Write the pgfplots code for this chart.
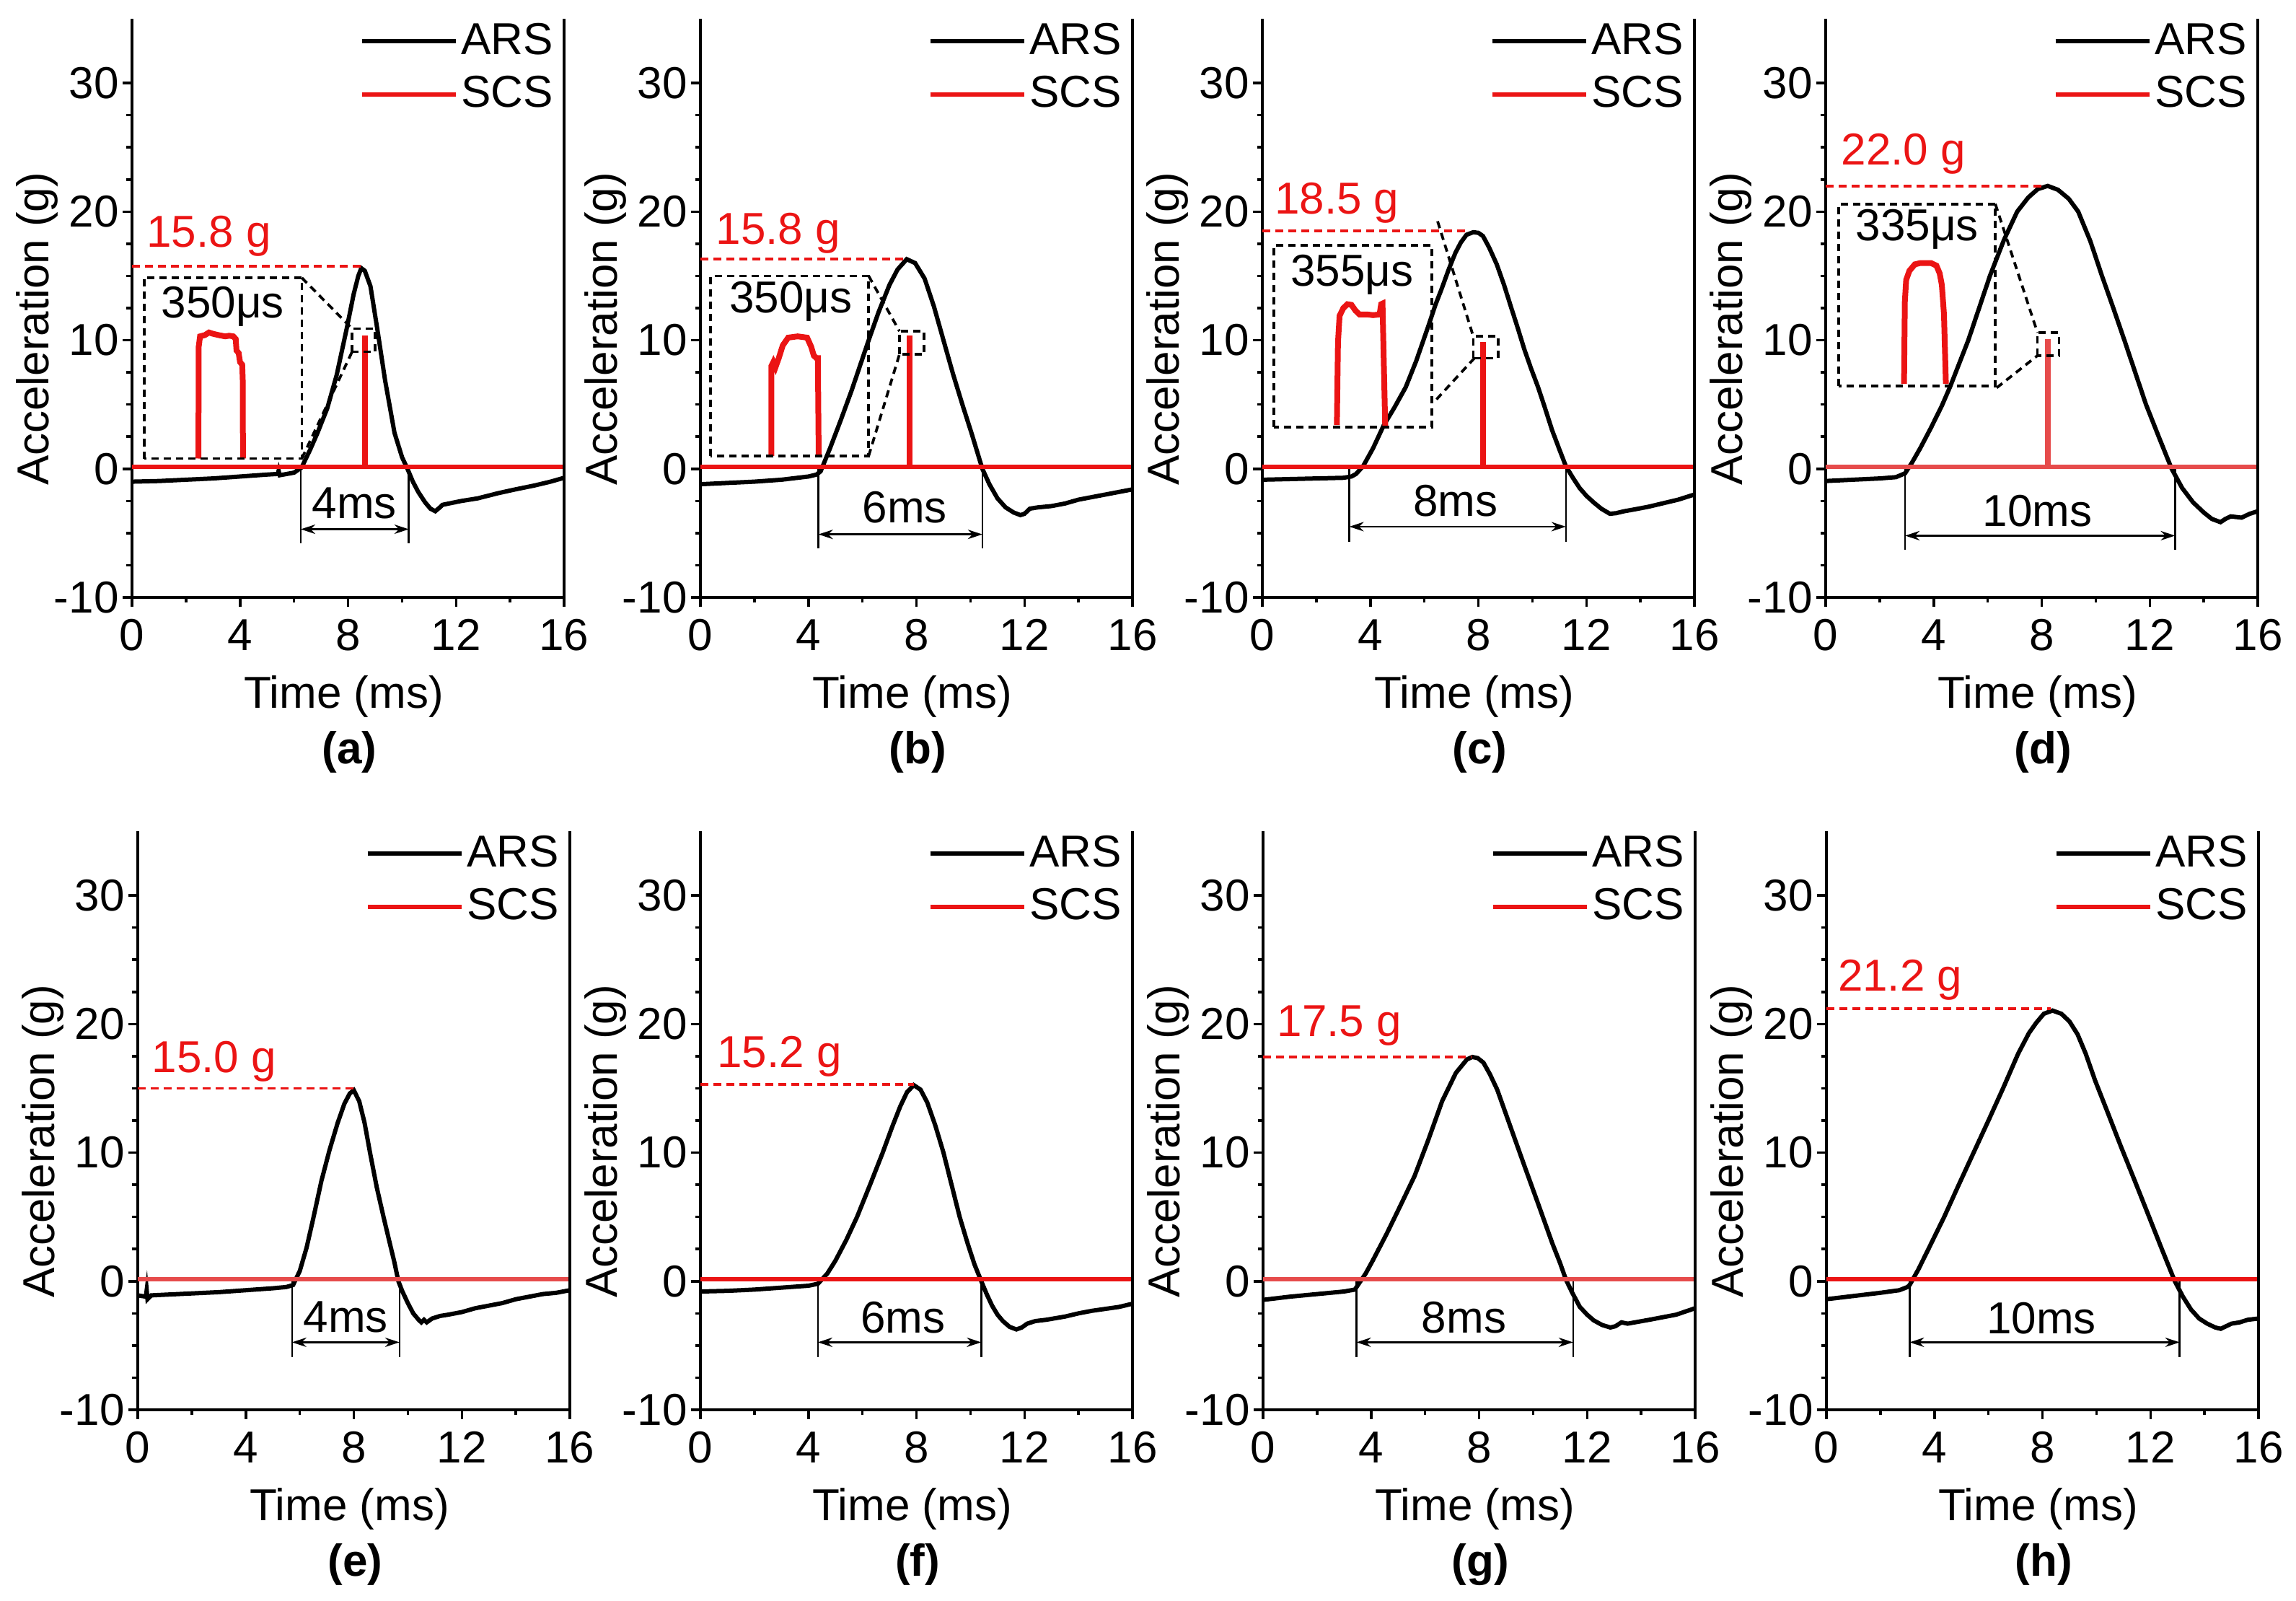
\documentclass[border=0pt]{standalone}
\usepackage{fontspec}
\setmainfont{Liberation Sans}
\usepackage{pgfplots}
\pgfplotsset{compat=1.18}
\usetikzlibrary{arrows.meta}
\definecolor{myred}{RGB}{235,20,20}
\definecolor{myredl}{RGB}{230,75,75}
\newcommand{\fs}{\fontsize{12.4}{14.5}\selectfont}
\tikzset{
  dbox/.style={black, line width=0.75pt, dash pattern=on 2pt off 1.4pt},
  rdash/.style={myred, line width=0.75pt, dash pattern=on 2.2pt off 1.4pt},
  dim/.style={black, line width=0.5pt},
  dimarr/.style={black, line width=0.5pt, {Stealth[length=4pt,width=2.6pt]}-{Stealth[length=4pt,width=2.6pt]}},
}
\pgfplotsset{panel/.style={
  scale only axis, width=119.8pt, height=160.4pt, anchor=south west,
  xmin=0, xmax=16, ymin=-10, ymax=35, clip=false,
  axis x line*=bottom, axis y line*=left,
  axis line style={-, line width=0.8pt},
  xtick={0,4,8,12,16}, xticklabels={0,4,8,12,16},
  ytick={-10,0,10,20,30}, yticklabels={-10,0,10,20,30},
  minor x tick num=1, minor y tick num=3,
  tick align=outside, major tick length=2.6pt, minor tick length=1.5pt,
  every tick/.style={black, line width=0.7pt},
  tick label style={font=\fs},
  yticklabel style={inner xsep=0.9pt},
  xlabel={Time (ms)}, ylabel={Acceleration (g)},
  label style={font=\fs},
  xlabel style={at={(axis description cs:0.49,-0.1708)}, anchor=center},
  ylabel style={at={(axis description cs:-0.2204,0.464)}, anchor=center},
  legend style={at={(axis description cs:0.985,1.0)}, anchor=north east, draw=none, fill=none,
    font=\fs, inner sep=0pt, row sep=2.5pt, nodes={inner sep=1pt}},
  legend cell align=left,
  legend image code/.code={\draw[#1, line width=1.2pt] (0pt,0pt) -- (26pt,0pt);},
  ars/.style={black, line width=1.2pt, no marks},
  scs/.style={myred, line width=1.2pt, no marks},
  scsl/.style={myredl, line width=1.2pt, no marks, forget plot},
  inset/.style={myred, line width=1.6pt, no marks},
}}
\begin{document}
\begin{tikzpicture}
\useasboundingbox (0,0) rectangle (636.6pt,443.8pt);
%================ (a)
\begin{axis}[panel, at={(36.6pt,278.2pt)}]
\addplot[ars] coordinates {(0,-1.0)(1,-0.95)(2,-0.85)(3,-0.75)(4,-0.6)(5,-0.45)(5.4,-0.4)(5.43,-0.15)(5.47,-0.5)(6.0,-0.3)(6.28,0.1)(6.6,1.5)(6.87,2.8)(7.23,4.7)(7.58,7.3)(7.94,10.8)(8.21,13.6)(8.38,15.0)(8.49,15.6)(8.62,15.4)(8.83,14.2)(9.1,10.65)(9.37,6.9)(9.72,2.8)(10.0,0.9)(10.2,0)(10.4,-1.0)(10.6,-1.8)(10.85,-2.6)(11.05,-3.1)(11.23,-3.3)(11.4,-3.0)(11.5,-2.8)(12.2,-2.5)(12.8,-2.3)(13.55,-1.9)(14.2,-1.6)(14.9,-1.3)(15.5,-1.0)(16,-0.7)};
\addlegendentry{ARS}
\addplot[scs] coordinates {(0,0.15)(8.6,0.15)(8.6,10.2)(8.66,10.2)(8.66,0.15)(16,0.15)};
\addlegendentry{SCS}
\addplot[inset, forget plot] coordinates {(2.46,0.8)(2.47,9.5)(2.52,10.3)(2.7,10.4)(2.85,10.6)(3.0,10.5)(3.2,10.4)(3.45,10.3)(3.6,10.35)(3.75,10.3)(3.84,10.1)(3.87,9.2)(3.95,9.0)(4.0,8.3)(4.08,8.1)(4.1,7.0)(4.11,0.8)};
\draw[rdash] (axis cs:0,15.75) -- (axis cs:8.55,15.75);
\node[myred, font=\fs, anchor=west, inner sep=0pt] at (axis cs:0.52,18.1) {15.8 g};
\draw[dbox] (axis cs:0.45,0.8) rectangle (axis cs:6.29,14.85);
\draw[dbox] (axis cs:8.15,9.1) rectangle (axis cs:9.0,10.9);
\draw[dbox] (axis cs:6.29,14.85) -- (axis cs:8.15,10.9);
\draw[dbox] (axis cs:6.29,0.8) -- (axis cs:8.15,9.1);
\node[font=\fs, inner sep=0pt] at (axis cs:3.36,12.6) {350μs};
\draw[dim] (axis cs:6.25,0) -- (axis cs:6.25,-5.8);
\draw[dim] (axis cs:10.25,0) -- (axis cs:10.25,-5.8);
\draw[dimarr] (axis cs:6.25,-4.7) -- (axis cs:10.25,-4.7);
\node[font=\fs, inner sep=0pt] at (axis cs:8.23,-2.7) {4ms};
\draw[line width=0.8pt] (rel axis cs:1,0) -- (rel axis cs:1,1);
\node[font=\fs\bfseries] at (axis description cs:0.503,-0.267) {(a)};
\end{axis}
%================ (b)
\begin{axis}[panel, at={(194.2pt,278.2pt)}]
\addplot[ars] coordinates {(0,-1.2)(1,-1.1)(2,-1.0)(3,-0.85)(4,-0.6)(4.3,-0.45)(4.45,-0.2)(4.8,1.6)(5.2,3.8)(5.6,6.1)(6.23,10.0)(6.6,12.2)(7.0,14.3)(7.3,15.5)(7.64,16.3)(7.95,16.0)(8.3,14.8)(8.65,12.6)(9.0,10.0)(9.35,7.4)(9.7,5.0)(10.05,2.7)(10.44,0)(10.7,-1.2)(11.0,-2.3)(11.3,-3.0)(11.6,-3.4)(11.85,-3.6)(12.0,-3.5)(12.2,-3.1)(12.5,-3.0)(13,-2.9)(13.5,-2.7)(14,-2.4)(14.5,-2.2)(15,-2.0)(15.5,-1.8)(16,-1.6)};
\addlegendentry{ARS}
\addplot[scs] coordinates {(0,0.15)(7.72,0.15)(7.72,10.2)(7.78,10.2)(7.78,0.15)(16,0.15)};
\addlegendentry{SCS}
\addplot[inset, forget plot] coordinates {(2.63,1.0)(2.63,8.0)(2.7,8.3)(2.78,7.9)(2.9,8.6)(3.05,9.6)(3.25,10.2)(3.6,10.3)(3.95,10.2)(4.1,9.5)(4.2,8.8)(4.3,8.6)(4.35,8.6)(4.38,1.0)};
\draw[rdash] (axis cs:0,16.3) -- (axis cs:7.6,16.3);
\node[myred, font=\fs, anchor=west, inner sep=0pt] at (axis cs:0.55,18.3) {15.8 g};
\draw[dbox] (axis cs:0.38,1.0) rectangle (axis cs:6.23,15.0);
\draw[dbox] (axis cs:7.37,8.9) rectangle (axis cs:8.29,10.7);
\draw[dbox] (axis cs:6.23,15.0) -- (axis cs:7.37,10.7);
\draw[dbox] (axis cs:6.23,1.0) -- (axis cs:7.37,8.9);
\node[font=\fs, inner sep=0pt] at (axis cs:3.35,13.0) {350μs};
\draw[dim] (axis cs:4.37,0) -- (axis cs:4.37,-6.2);
\draw[dim] (axis cs:10.44,0) -- (axis cs:10.44,-6.2);
\draw[dimarr] (axis cs:4.37,-5.1) -- (axis cs:10.44,-5.1);
\node[font=\fs, inner sep=0pt] at (axis cs:7.57,-3.0) {6ms};
\draw[line width=0.8pt] (rel axis cs:1,0) -- (rel axis cs:1,1);
\node[font=\fs\bfseries] at (axis description cs:0.503,-0.267) {(b)};
\end{axis}
%================ (c)
\begin{axis}[panel, at={(350pt,278.2pt)}]
\addplot[ars] coordinates {(0,-0.85)(1,-0.8)(2,-0.75)(3,-0.7)(3.3,-0.6)(3.47,-0.4)(3.73,0.2)(4.1,1.6)(4.49,3.36)(4.9,4.8)(5.31,6.35)(5.7,8.4)(6.13,11.0)(6.4,12.7)(6.64,14.0)(6.9,15.5)(7.15,16.8)(7.35,17.6)(7.56,18.2)(7.81,18.4)(8.0,18.35)(8.17,18.1)(8.4,17.2)(8.68,15.9)(8.95,14.3)(9.19,12.7)(9.45,11.0)(9.7,9.3)(9.95,7.8)(10.21,6.35)(10.47,4.7)(10.73,3.0)(11.0,1.5)(11.24,0.2)(11.5,-0.7)(11.75,-1.5)(12.0,-2.1)(12.26,-2.6)(12.55,-3.1)(12.87,-3.5)(13.1,-3.45)(13.4,-3.3)(13.8,-3.15)(14.3,-2.95)(14.8,-2.7)(15.4,-2.4)(16,-2.0)};
\addlegendentry{ARS}
\addplot[scs] coordinates {(0,0.15)(8.14,0.15)(8.14,9.7)(8.2,9.7)(8.2,0.15)(16,0.15)};
\addlegendentry{SCS}
\addplot[inset, forget plot] coordinates {(2.76,3.4)(2.8,9.8)(2.86,11.9)(3.0,12.5)(3.15,12.8)(3.3,12.75)(3.45,12.3)(3.6,12.0)(3.9,12.0)(4.1,11.95)(4.34,12.0)(4.4,12.8)(4.45,12.85)(4.5,8.0)(4.55,3.3)};
\draw[rdash] (axis cs:0,18.5) -- (axis cs:7.6,18.5);
\node[myred, font=\fs, anchor=west, inner sep=0pt] at (axis cs:0.43,20.7) {18.5 g};
\draw[dbox] (axis cs:0.43,3.26) rectangle (axis cs:6.28,17.4);
\draw[dbox] (axis cs:7.81,8.6) rectangle (axis cs:8.73,10.3);
\draw[dbox] (axis cs:6.49,19.25) -- (axis cs:7.81,10.3);
\draw[dbox] (axis cs:6.45,5.4) -- (axis cs:7.85,8.6);
\node[font=\fs, inner sep=0pt] at (axis cs:3.32,15.1) {355μs};
\draw[dim] (axis cs:3.22,0) -- (axis cs:3.22,-5.7);
\draw[dim] (axis cs:11.24,0) -- (axis cs:11.24,-5.7);
\draw[dimarr] (axis cs:3.22,-4.5) -- (axis cs:11.24,-4.5);
\node[font=\fs, inner sep=0pt] at (axis cs:7.15,-2.5) {8ms};
\draw[line width=0.8pt] (rel axis cs:1,0) -- (rel axis cs:1,1);
\node[font=\fs\bfseries] at (axis description cs:0.503,-0.267) {(c)};
\end{axis}
%================ (d)
\begin{axis}[panel, at={(506.2pt,278.2pt)}]
\addplot[ars] coordinates {(0,-0.95)(1,-0.85)(2,-0.75)(2.6,-0.65)(2.94,-0.35)(3.2,0.5)(3.5,1.6)(3.9,3.2)(4.3,4.9)(4.62,6.45)(5.28,10.0)(6.08,15.0)(6.6,17.8)(7.09,20.0)(7.5,21.1)(7.85,21.75)(8.22,22.0)(8.6,21.7)(9.0,21.0)(9.35,20.0)(9.8,17.7)(10.23,15.0)(10.65,12.5)(11.06,10.0)(11.46,7.5)(11.86,5.0)(12.35,2.4)(12.81,0)(13.2,-1.5)(13.6,-2.6)(14.0,-3.4)(14.3,-3.9)(14.62,-4.15)(14.8,-3.9)(15.0,-3.7)(15.2,-3.75)(15.4,-3.8)(15.7,-3.5)(16,-3.3)};
\addlegendentry{ARS}
\addplot[scsl] coordinates {(0,0.15)(8.19,0.15)(8.19,9.9)(8.25,9.9)(8.25,0.15)(16,0.15)};
\addlegendimage{scs}
\addlegendentry{SCS}
\addplot[inset, forget plot] coordinates {(2.9,6.6)(2.93,13.0)(2.98,14.7)(3.1,15.4)(3.3,15.9)(3.5,16.0)(3.9,16.0)(4.1,15.8)(4.22,15.2)(4.3,14.3)(4.38,12.0)(4.45,6.6)};
\draw[rdash] (axis cs:0,22.0) -- (axis cs:8.1,22.0);
\node[myred, font=\fs, anchor=west, inner sep=0pt] at (axis cs:0.55,24.5) {22.0 g};
\draw[dbox] (axis cs:0.48,6.45) rectangle (axis cs:6.28,20.6);
\draw[dbox] (axis cs:7.84,8.8) rectangle (axis cs:8.64,10.6);
\draw[dbox] (axis cs:6.28,20.6) -- (axis cs:7.84,10.6);
\draw[dbox] (axis cs:6.33,6.3) -- (axis cs:7.84,8.8);
\node[font=\fs, inner sep=0pt] at (axis cs:3.39,18.6) {335μs};
\draw[dim] (axis cs:2.94,0) -- (axis cs:2.94,-6.3);
\draw[dim] (axis cs:12.94,0) -- (axis cs:12.94,-6.3);
\draw[dimarr] (axis cs:2.94,-5.2) -- (axis cs:12.94,-5.2);
\node[font=\fs, inner sep=0pt] at (axis cs:7.84,-3.3) {10ms};
\draw[line width=0.8pt] (rel axis cs:1,0) -- (rel axis cs:1,1);
\node[font=\fs\bfseries] at (axis description cs:0.503,-0.267) {(d)};
\end{axis}
%================ (e)
\begin{axis}[panel, at={(38.2pt,53pt)}]
\addplot[ars] coordinates {(0,-1.1)(0.3,-1.2)(0.33,-0.7)(0.36,-1.4)(0.5,-1.1)(1,-1.05)(2,-0.95)(3,-0.85)(4,-0.7)(5,-0.55)(5.5,-0.45)(5.75,-0.3)(6.0,0.8)(6.25,2.6)(6.5,4.9)(6.8,7.8)(7.1,10.2)(7.4,12.3)(7.65,13.8)(7.85,14.6)(8.0,14.85)(8.2,14.0)(8.4,12.3)(8.6,10.0)(8.85,7.3)(9.1,5.0)(9.35,2.8)(9.5,1.5)(9.65,0)(9.8,-0.8)(10.0,-1.7)(10.2,-2.5)(10.4,-3.0)(10.5,-3.2)(10.6,-3.0)(10.7,-3.2)(10.9,-2.9)(11.2,-2.7)(11.5,-2.6)(12,-2.4)(12.5,-2.1)(13,-1.9)(13.5,-1.7)(14,-1.4)(14.5,-1.2)(15,-1.0)(15.5,-0.9)(16,-0.7)};
\addlegendentry{ARS}
\addplot[scsl] coordinates {(0,0.15)(16,0.15)};
\addlegendimage{scs}
\addlegendentry{SCS}
\draw[rdash] (axis cs:0,15.0) -- (axis cs:8.0,15.0);
\node[myred, font=\fs, anchor=west, inner sep=0pt] at (axis cs:0.5,17.1) {15.0 g};
\draw[dim] (axis cs:5.71,0) -- (axis cs:5.71,-5.9);
\draw[dim] (axis cs:9.69,0) -- (axis cs:9.69,-5.9);
\draw[dimarr] (axis cs:5.71,-4.75) -- (axis cs:9.69,-4.75);
\node[font=\fs, inner sep=0pt] at (axis cs:7.7,-2.8) {4ms};
\draw[line width=0.8pt] (rel axis cs:1,0) -- (rel axis cs:1,1);
\node[font=\fs\bfseries] at (axis description cs:0.503,-0.267) {(e)};
\end{axis}
%================ (f)
\begin{axis}[panel, at={(194.2pt,53pt)}]
\addplot[ars] coordinates {(0,-0.8)(1,-0.75)(2,-0.65)(3,-0.5)(4,-0.35)(4.35,-0.2)(4.7,0.6)(5.0,1.6)(5.4,3.2)(5.8,5.0)(6.3,7.6)(6.75,10.0)(7.1,12.0)(7.4,13.6)(7.65,14.7)(7.9,15.25)(8.15,14.9)(8.4,13.9)(8.7,12.1)(9.0,10.0)(9.3,7.5)(9.6,5.0)(9.9,2.9)(10.15,1.3)(10.4,0)(10.6,-1.0)(10.8,-1.9)(11.0,-2.6)(11.2,-3.1)(11.45,-3.55)(11.7,-3.75)(11.9,-3.6)(12.1,-3.3)(12.4,-3.1)(12.8,-3.0)(13.5,-2.75)(14,-2.5)(14.5,-2.3)(15,-2.15)(15.5,-2.0)(16,-1.75)};
\addlegendentry{ARS}
\addplot[scs] coordinates {(0,0.15)(16,0.15)};
\addlegendentry{SCS}
\draw[rdash] (axis cs:0,15.3) -- (axis cs:7.9,15.3);
\node[myred, font=\fs, anchor=west, inner sep=0pt] at (axis cs:0.6,17.5) {15.2 g};
\draw[dim] (axis cs:4.35,0) -- (axis cs:4.35,-5.9);
\draw[dim] (axis cs:10.4,0) -- (axis cs:10.4,-5.9);
\draw[dimarr] (axis cs:4.35,-4.75) -- (axis cs:10.4,-4.75);
\node[font=\fs, inner sep=0pt] at (axis cs:7.5,-2.8) {6ms};
\draw[line width=0.8pt] (rel axis cs:1,0) -- (rel axis cs:1,1);
\node[font=\fs\bfseries] at (axis description cs:0.503,-0.267) {(f)};
\end{axis}
%================ (g)
\begin{axis}[panel, at={(350.2pt,53pt)}]
\addplot[ars] coordinates {(0,-1.45)(1,-1.2)(2,-1.0)(3,-0.8)(3.4,-0.65)(3.51,-0.3)(3.8,0.6)(4.07,1.64)(4.58,3.7)(5.1,5.94)(5.61,8.18)(6.12,11.0)(6.63,14.0)(7.14,16.2)(7.55,17.25)(7.75,17.44)(7.95,17.35)(8.16,17.0)(8.4,16.1)(8.67,14.9)(9.18,11.9)(9.69,8.9)(10.2,5.94)(10.71,2.95)(11.0,1.4)(11.22,0.1)(11.45,-0.9)(11.73,-2.0)(12.0,-2.6)(12.24,-3.04)(12.55,-3.4)(12.86,-3.6)(13.05,-3.5)(13.27,-3.2)(13.5,-3.3)(14.3,-3.0)(15.3,-2.6)(16.0,-2.1)};
\addlegendentry{ARS}
\addplot[scsl] coordinates {(0,0.15)(16,0.15)};
\addlegendimage{scs}
\addlegendentry{SCS}
\draw[rdash] (axis cs:0,17.45) -- (axis cs:7.7,17.45);
\node[myred, font=\fs, anchor=west, inner sep=0pt] at (axis cs:0.5,19.9) {17.5 g};
\draw[dim] (axis cs:3.46,0) -- (axis cs:3.46,-5.9);
\draw[dim] (axis cs:11.48,0) -- (axis cs:11.48,-5.9);
\draw[dimarr] (axis cs:3.46,-4.75) -- (axis cs:11.48,-4.75);
\node[font=\fs, inner sep=0pt] at (axis cs:7.44,-2.8) {8ms};
\draw[line width=0.8pt] (rel axis cs:1,0) -- (rel axis cs:1,1);
\node[font=\fs\bfseries] at (axis description cs:0.503,-0.267) {(g)};
\end{axis}
%================ (h)
\begin{axis}[panel, at={(506.4pt,53pt)}]
\addplot[ars] coordinates {(0,-1.4)(1,-1.15)(2,-0.9)(2.7,-0.7)(3.0,-0.45)(3.08,-0.3)(3.4,0.9)(3.8,2.6)(4.36,5.0)(4.9,7.5)(5.45,10.0)(6.0,12.5)(6.54,15.0)(7.1,17.7)(7.5,19.3)(7.77,20.1)(8.05,20.8)(8.37,21.05)(8.7,20.8)(9.0,20.2)(9.3,19.2)(9.6,17.7)(9.95,15.6)(10.4,13.2)(10.9,10.5)(11.4,7.9)(11.93,5.1)(12.4,2.6)(12.9,0)(13.2,-1.2)(13.5,-2.2)(13.8,-2.9)(14.1,-3.3)(14.4,-3.6)(14.6,-3.7)(14.8,-3.5)(15.0,-3.3)(15.3,-3.2)(15.6,-3.0)(16,-2.9)};
\addlegendentry{ARS}
\addplot[scs] coordinates {(0,0.15)(16,0.15)};
\addlegendentry{SCS}
\draw[rdash] (axis cs:0,21.2) -- (axis cs:8.3,21.2);
\node[myred, font=\fs, anchor=west, inner sep=0pt] at (axis cs:0.4,23.4) {21.2 g};
\draw[dim] (axis cs:3.08,0) -- (axis cs:3.08,-5.9);
\draw[dim] (axis cs:13.08,0) -- (axis cs:13.08,-5.9);
\draw[dimarr] (axis cs:3.08,-4.75) -- (axis cs:13.08,-4.75);
\node[font=\fs, inner sep=0pt] at (axis cs:7.96,-2.9) {10ms};
\draw[line width=0.8pt] (rel axis cs:1,0) -- (rel axis cs:1,1);
\node[font=\fs\bfseries] at (axis description cs:0.503,-0.267) {(h)};
\end{axis}
\end{tikzpicture}
\end{document}
